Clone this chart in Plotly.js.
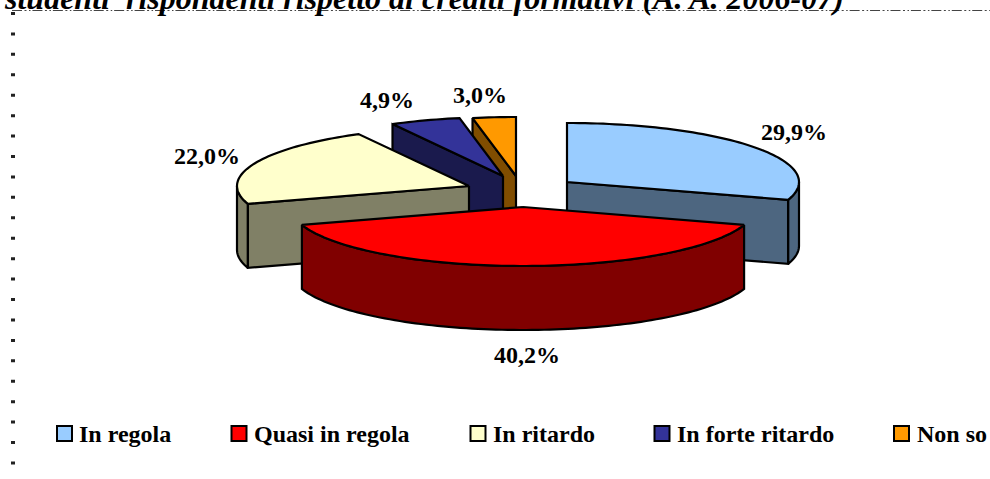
<!DOCTYPE html>
<html>
<head>
<meta charset="utf-8">
<script src="https://cdn.plot.ly/plotly-3.0.1.min.js"></script>
<style>html,body{margin:0;padding:0;background:#fff;overflow:hidden}#chart{width:990px;height:479px}</style>
</head>
<body>
<div id="chart"></div>
<script>
// ---- data ----
const categories = ["In regola", "Quasi in regola", "In ritardo", "In forte ritardo", "Non so"];
const shares = [29.9, 40.2, 22.0, 4.9, 3.0];
const titleText = "studenti  rispondenti rispetto ai crediti formativi (A. A. 2006-07)";

// ---- style ----
const topColors  = ["#99CCFF", "#FF0000", "#FFFFCC", "#333399", "#FF9900"];
const sideColors = ["#4D6680", "#800000", "#808066", "#1A1A4D", "#804D00"];
const serif = "'Liberation Serif', 'Times New Roman', serif";

// ---- layout of the exploded pie (page pixels on the hidden axes) ----
const rx = 232, ry = 59, depth = 64;
const apexX = [567, 523, 469, 503, 516];
const apexY = [182, 207, 186, 176, 176];
const labelX = [794, 527, 207, 387, 480];
const labelY = [132, 355, 156, 100, 95];
const swatchX = [64.5, 239, 478, 662, 901.5];
const textX = [78, 253, 492, 676, 916];
const legendY = 433.5;

const rad = d => d * Math.PI / 180;
function arc(i, a, b, dy) {
  const xs = [], ys = [], n = Math.max(2, Math.ceil(Math.abs(b - a) / 1.5));
  for (let k = 0; k <= n; k++) {
    const t = rad(a + (b - a) * k / n);
    xs.push(apexX[i] + rx * Math.sin(t));
    ys.push(apexY[i] - ry * Math.cos(t) + dy);
  }
  return [xs, ys];
}
function poly(name, xs, ys, color) {
  return {
    type: "scatter", mode: "lines", name: name, x: xs.concat(xs[0]), y: ys.concat(ys[0]),
    fill: "toself", fillcolor: color, line: {color: "#000", width: 2.2, simplify: false},
    hoverinfo: "name", showlegend: false
  };
}
const total = shares.reduce((s, v) => s + v, 0);
const starts = [];
shares.reduce((acc, v, i) => { starts[i] = acc; return acc + v / total * 360; }, 0);

function sliceTraces(i) {
  const a0 = starts[i], a1 = a0 + shares[i] / total * 360, out = [];
  const lo = Math.max(a0, 90), hi = Math.min(a1, 270);
  if (hi > lo) {
    const t = arc(i, lo, hi, 0), b = arc(i, hi, lo, depth);
    out.push(poly(categories[i], t[0].concat(b[0]), t[1].concat(b[1]), sideColors[i]));
  }
  [[a0, Math.sin(rad(a0)) < -1e-6], [a1, Math.sin(rad(a1)) > 1e-6]].forEach(([a, show]) => {
    if (!show) return;
    const p = arc(i, a, a, 0), ex = p[0][0], ey = p[1][0];
    out.push(poly(categories[i],
      [apexX[i], ex, ex, apexX[i]],
      [apexY[i], ey, ey + depth, apexY[i] + depth], sideColors[i]));
  });
  const top = arc(i, a0, a1, 0);
  out.push(poly(categories[i], [apexX[i]].concat(top[0]), [apexY[i]].concat(top[1]), topColors[i]));
  return out;
}
let traces = [];
[4, 3, 2, 0, 1].forEach(i => { traces = traces.concat(sliceTraces(i)); });

// legend swatches
traces.push({
  type: "scatter", mode: "markers", x: swatchX, y: categories.map(() => legendY),
  text: categories, hoverinfo: "text", showlegend: false,
  marker: {symbol: "square", size: 15, color: topColors, line: {color: "#000", width: 2}}
});

const annotations = [];
shares.forEach((v, i) => annotations.push({
  x: labelX[i], y: labelY[i], xref: "x", yref: "y", showarrow: false,
  xanchor: "center", yanchor: "middle",
  text: "<b>" + v.toFixed(1).replace(".", ",") + "%</b>",
  font: {family: serif, size: 24, color: "#000"}
}));
categories.forEach((c, i) => annotations.push({
  x: textX[i], y: legendY, xref: "x", yref: "y", showarrow: false,
  xanchor: "left", yanchor: "middle", xshift: -1,
  text: "<b>" + c + "</b>",
  font: {family: serif, size: 24, color: "#000"}
}));
annotations.push({
  x: 2, y: 18, xref: "x", yref: "y", showarrow: false,
  xanchor: "left", yanchor: "bottom",
  text: "<b><i>" + titleText + "</i></b>",
  font: {family: serif, size: 32, color: "#000"}
});

const layout = {
  width: 990, height: 479,
  margin: {l: 0, r: 0, t: 0, b: 0},
  paper_bgcolor: "#fff", plot_bgcolor: "#fff",
  showlegend: false,
  xaxis: {range: [0, 990], visible: false, fixedrange: true},
  yaxis: {range: [479, 0], visible: false, fixedrange: true},
  annotations: annotations,
  shapes: [
    {type: "line", xref: "x", yref: "y", x0: 12, x1: 990, y0: 10.5, y1: 10.5,
     line: {color: "#444", width: 1, dash: "10px,2.5px,2px,2.5px,1.5px,1.93px"}},
    {type: "line", xref: "x", yref: "y", x0: 13, x1: 13, y0: 12, y1: 466,
     line: {color: "#222", width: 4, dash: "3px,17.43px"}}
  ]
};
Plotly.newPlot("chart", traces, layout, {displayModeBar: false, staticPlot: true});
</script>
</body>
</html>
